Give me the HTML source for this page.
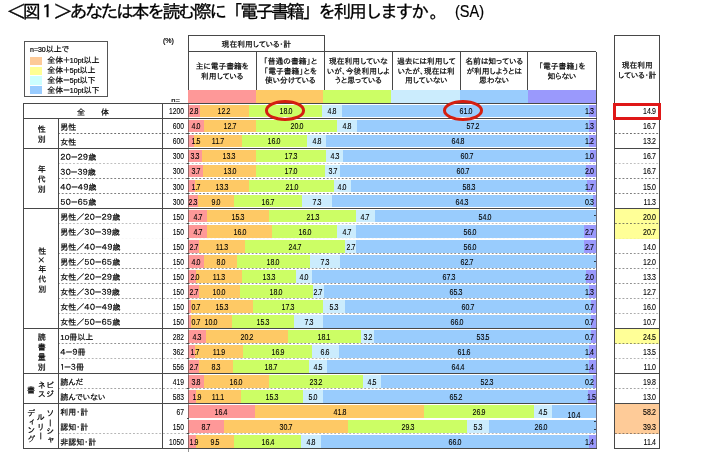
<!DOCTYPE html>
<html lang="ja"><head><meta charset="utf-8"><title>図1 電子書籍の利用</title>
<style>
html,body{margin:0;padding:0;background:#fff;}
body{width:711px;height:454px;position:relative;overflow:hidden;
 font-family:"Liberation Sans","IPAPGothic","IPAGothic",sans-serif;color:#1c1c1c;}
div,span{box-sizing:border-box;}
.a{position:absolute;}
#title{left:7.3px;top:2.0px;font-family:"Liberation Sans","IPAGothic",monospace;font-size:18px;line-height:20px;
 letter-spacing:-2.47px;white-space:nowrap;color:#000;-webkit-text-stroke:0.3px #000;}
.t{position:absolute;font-size:8px;line-height:9.5px;white-space:nowrap;color:#000;-webkit-text-stroke:0.2px #000;}
.t b{font-weight:normal;font-size:7px;}
.h{position:absolute;font-size:7.8px;line-height:9.5px;text-align:center;color:#000;white-space:nowrap;-webkit-text-stroke:0.2px #000;}
.n{position:absolute;font-size:8.3px;line-height:9px;white-space:nowrap;color:#000;-webkit-text-stroke:0.1px #000;}
.n i{font-style:normal;letter-spacing:-0.9px;}
.c{text-align:center;transform:translateX(-50%) scaleX(.85);}
.r{text-align:right;transform-origin:100% 50%;transform:translateX(-100%) scaleX(.85);}
.t.c{transform:translateX(-50%);}
.q{transform:translateX(-100%) scaleX(.81);}
.v{position:absolute;writing-mode:vertical-rl;text-align:center;font-size:8px;line-height:9.6px;letter-spacing:1.8px;white-space:nowrap;color:#000;-webkit-text-stroke:0.2px #000;}
.ln{position:absolute;background:#484848;}
.dz{position:absolute;height:1px;background-image:linear-gradient(90deg,#484848 0,#484848 50%,transparent 50%);background-size:3.75px 1px;}
.dy{position:absolute;height:1px;background-image:linear-gradient(90deg,#484848 0,#484848 38%,transparent 38%);background-size:3.75px 1px;}
.b{position:absolute;}
</style></head><body>

<div id="title" class="a">＜図１＞あなたは本を読む際に「電子書籍」を利用しますか<span style="margin-left:3px">。</span><span style="display:inline-block;margin-left:10px;letter-spacing:0;font-size:17.3px;transform:translateY(-1.5px) scaleX(.84);transform-origin:0 50%;-webkit-text-stroke:0.2px #000">(SA)</span></div>
<div class="a" style="left:24px;top:41px;width:84px;height:56px;border:1px solid #555;"></div>
<div class="t" style="left:30px;top:44.5px;"><b>n=30</b>以上で</div>
<div class="b" style="left:29.6px;top:56.7px;width:12.4px;height:8.4px;background:#fdca98"></div>
<div class="t" style="left:47.3px;top:56.1px;">全体＋<b>10pt</b>以上</div>
<div class="b" style="left:29.6px;top:66.5px;width:12.4px;height:8.4px;background:#ffff94"></div>
<div class="t" style="left:47.3px;top:65.9px;">全体＋<b>5pt</b>以上</div>
<div class="b" style="left:29.6px;top:76.3px;width:12.4px;height:8.4px;background:#ccffff"></div>
<div class="t" style="left:47.3px;top:75.7px;">全体－<b>5pt</b>以下</div>
<div class="b" style="left:29.6px;top:86.1px;width:12.4px;height:8.4px;background:#99ccff"></div>
<div class="t" style="left:47.3px;top:85.5px;">全体－<b>10pt</b>以下</div>
<div class="t" style="left:163px;top:36.3px;"><b>(%)</b></div>
<div class="a" style="left:165px;top:93px;width:22px;height:8.9px;overflow:hidden;"><div class="t" style="left:6.3px;top:2.6px;font-size:7.6px">n=</div></div>
<div class="b" style="left:188.4px;top:89.9px;width:408.0px;height:13.6px;background:#fe9898"></div>
<div class="b" style="left:255.5px;top:89.9px;width:340.9px;height:13.6px;background:#fec965"></div>
<div class="b" style="left:323.0px;top:89.9px;width:273.4px;height:13.6px;background:#ccfe65"></div>
<div class="b" style="left:391.0px;top:89.9px;width:205.4px;height:13.6px;background:#cbecfd"></div>
<div class="b" style="left:459.5px;top:89.9px;width:136.9px;height:13.6px;background:#99ccfd"></div>
<div class="b" style="left:527.5px;top:89.9px;width:68.9px;height:13.6px;background:#9a99fc"></div>
<div class="ln" style="left:187.90px;top:35.10px;width:137.10px;height:1.00px;"></div>
<div class="ln" style="left:187.90px;top:51.40px;width:408.60px;height:1.00px;"></div>
<div class="ln" style="left:187.90px;top:35.60px;width:1.00px;height:54.40px;"></div>
<div class="ln" style="left:255.50px;top:51.90px;width:1.00px;height:38.10px;"></div>
<div class="ln" style="left:324.00px;top:35.60px;width:1.00px;height:54.40px;"></div>
<div class="ln" style="left:391.70px;top:51.90px;width:1.00px;height:38.10px;"></div>
<div class="ln" style="left:459.80px;top:51.90px;width:1.00px;height:38.10px;"></div>
<div class="ln" style="left:527.40px;top:51.90px;width:1.00px;height:38.10px;"></div>
<div class="ln" style="left:595.50px;top:51.90px;width:1.00px;height:38.10px;"></div>
<div class="h" style="left:188.4px;top:40.3px;width:136px;">現在利用している・計</div>
<div class="h" style="left:188.4px;top:62.0px;width:67.6px;">主に電子書籍を<br>利用している</div>
<div class="h" style="left:256.0px;top:57.2px;width:68.5px;">「普通の書籍」と<br>「電子書籍」とを<br>使い分けている</div>
<div class="h" style="left:324.5px;top:57.2px;width:67.7px;">現在利用していな<br>いが、今後利用しよ<br>うと思っている</div>
<div class="h" style="left:392.2px;top:57.2px;width:68.1px;">過去には利用して<br>いたが、現在は利<br>用していない</div>
<div class="h" style="left:460.3px;top:57.2px;width:67.6px;">名前は知っている<br>が利用しようとは<br>思わない</div>
<div class="h" style="left:527.9px;top:62.0px;width:68.1px;">「電子書籍」を<br>知らない</div>
<div class="h" style="left:614.6px;top:61.3px;width:45.3px;">現在利用<br>している・計</div>
<div class="b" style="left:188.20px;top:104.95px;width:407.70px;height:12.4px;background:#fe9898"></div>
<div class="b" style="left:199.57px;top:104.95px;width:396.33px;height:12.4px;background:#fec965"></div>
<div class="b" style="left:249.10px;top:104.95px;width:346.80px;height:12.4px;background:#ccfe65"></div>
<div class="b" style="left:322.18px;top:104.95px;width:273.72px;height:12.4px;background:#cbecfd"></div>
<div class="b" style="left:341.67px;top:104.95px;width:254.23px;height:12.4px;background:#99ccfd"></div>
<div class="b" style="left:589.33px;top:104.95px;width:6.57px;height:12.4px;background:#9a99fc"></div>
<div class="b" style="left:188.20px;top:119.97px;width:407.70px;height:12.4px;background:#fe9898"></div>
<div class="b" style="left:204.44px;top:119.97px;width:391.46px;height:12.4px;background:#fec965"></div>
<div class="b" style="left:256.00px;top:119.97px;width:339.90px;height:12.4px;background:#ccfe65"></div>
<div class="b" style="left:337.20px;top:119.97px;width:258.70px;height:12.4px;background:#cbecfd"></div>
<div class="b" style="left:356.69px;top:119.97px;width:239.21px;height:12.4px;background:#99ccfd"></div>
<div class="b" style="left:588.92px;top:119.97px;width:6.98px;height:12.4px;background:#9a99fc"></div>
<div class="b" style="left:188.20px;top:134.99px;width:407.70px;height:12.4px;background:#fe9898"></div>
<div class="b" style="left:194.29px;top:134.99px;width:401.61px;height:12.4px;background:#fec965"></div>
<div class="b" style="left:241.79px;top:134.99px;width:354.11px;height:12.4px;background:#ccfe65"></div>
<div class="b" style="left:306.75px;top:134.99px;width:289.15px;height:12.4px;background:#cbecfd"></div>
<div class="b" style="left:326.24px;top:134.99px;width:269.66px;height:12.4px;background:#99ccfd"></div>
<div class="b" style="left:589.33px;top:134.99px;width:6.57px;height:12.4px;background:#9a99fc"></div>
<div class="b" style="left:188.20px;top:150.01px;width:407.70px;height:12.4px;background:#fe9898"></div>
<div class="b" style="left:201.60px;top:150.01px;width:394.30px;height:12.4px;background:#fec965"></div>
<div class="b" style="left:255.60px;top:150.01px;width:340.30px;height:12.4px;background:#ccfe65"></div>
<div class="b" style="left:325.83px;top:150.01px;width:270.07px;height:12.4px;background:#cbecfd"></div>
<div class="b" style="left:343.29px;top:150.01px;width:252.61px;height:12.4px;background:#99ccfd"></div>
<div class="b" style="left:589.73px;top:150.01px;width:6.17px;height:12.4px;background:#9a99fc"></div>
<div class="b" style="left:188.20px;top:165.03px;width:407.70px;height:12.4px;background:#fe9898"></div>
<div class="b" style="left:203.22px;top:165.03px;width:392.68px;height:12.4px;background:#fec965"></div>
<div class="b" style="left:256.00px;top:165.03px;width:339.90px;height:12.4px;background:#ccfe65"></div>
<div class="b" style="left:325.02px;top:165.03px;width:270.88px;height:12.4px;background:#cbecfd"></div>
<div class="b" style="left:340.04px;top:165.03px;width:255.86px;height:12.4px;background:#99ccfd"></div>
<div class="b" style="left:586.49px;top:165.03px;width:9.41px;height:12.4px;background:#9a99fc"></div>
<div class="b" style="left:188.20px;top:180.05px;width:407.70px;height:12.4px;background:#fe9898"></div>
<div class="b" style="left:195.10px;top:180.05px;width:400.80px;height:12.4px;background:#fec965"></div>
<div class="b" style="left:249.10px;top:180.05px;width:346.80px;height:12.4px;background:#ccfe65"></div>
<div class="b" style="left:334.36px;top:180.05px;width:261.54px;height:12.4px;background:#cbecfd"></div>
<div class="b" style="left:350.60px;top:180.05px;width:245.30px;height:12.4px;background:#99ccfd"></div>
<div class="b" style="left:587.30px;top:180.05px;width:8.60px;height:12.4px;background:#9a99fc"></div>
<div class="b" style="left:188.20px;top:195.07px;width:407.70px;height:12.4px;background:#fe9898"></div>
<div class="b" style="left:197.54px;top:195.07px;width:398.36px;height:12.4px;background:#fec965"></div>
<div class="b" style="left:234.08px;top:195.07px;width:361.82px;height:12.4px;background:#ccfe65"></div>
<div class="b" style="left:301.88px;top:195.07px;width:294.02px;height:12.4px;background:#cbecfd"></div>
<div class="b" style="left:331.52px;top:195.07px;width:264.38px;height:12.4px;background:#99ccfd"></div>
<div class="b" style="left:592.58px;top:195.07px;width:3.32px;height:12.4px;background:#9a99fc"></div>
<div class="b" style="left:188.20px;top:210.09px;width:407.70px;height:12.4px;background:#fe9898"></div>
<div class="b" style="left:207.28px;top:210.09px;width:388.62px;height:12.4px;background:#fec965"></div>
<div class="b" style="left:269.40px;top:210.09px;width:326.50px;height:12.4px;background:#ccfe65"></div>
<div class="b" style="left:355.88px;top:210.09px;width:240.02px;height:12.4px;background:#cbecfd"></div>
<div class="b" style="left:374.96px;top:210.09px;width:220.94px;height:12.4px;background:#99ccfd"></div>
<div class="b" style="left:614.6px;top:208.54px;width:45.3px;height:15.02px;background:#ffff97"></div>
<div class="b" style="left:188.20px;top:225.11px;width:407.70px;height:12.4px;background:#fe9898"></div>
<div class="b" style="left:207.28px;top:225.11px;width:388.62px;height:12.4px;background:#fec965"></div>
<div class="b" style="left:272.24px;top:225.11px;width:323.66px;height:12.4px;background:#ccfe65"></div>
<div class="b" style="left:337.20px;top:225.11px;width:258.70px;height:12.4px;background:#cbecfd"></div>
<div class="b" style="left:356.28px;top:225.11px;width:239.62px;height:12.4px;background:#99ccfd"></div>
<div class="b" style="left:583.64px;top:225.11px;width:12.26px;height:12.4px;background:#9a99fc"></div>
<div class="b" style="left:614.6px;top:223.56px;width:45.3px;height:15.02px;background:#ffff97"></div>
<div class="b" style="left:188.20px;top:240.13px;width:407.70px;height:12.4px;background:#fe9898"></div>
<div class="b" style="left:199.16px;top:240.13px;width:396.74px;height:12.4px;background:#fec965"></div>
<div class="b" style="left:245.04px;top:240.13px;width:350.86px;height:12.4px;background:#ccfe65"></div>
<div class="b" style="left:345.32px;top:240.13px;width:250.58px;height:12.4px;background:#cbecfd"></div>
<div class="b" style="left:356.28px;top:240.13px;width:239.62px;height:12.4px;background:#99ccfd"></div>
<div class="b" style="left:583.64px;top:240.13px;width:12.26px;height:12.4px;background:#9a99fc"></div>
<div class="b" style="left:188.20px;top:255.15px;width:407.70px;height:12.4px;background:#fe9898"></div>
<div class="b" style="left:204.44px;top:255.15px;width:391.46px;height:12.4px;background:#fec965"></div>
<div class="b" style="left:236.92px;top:255.15px;width:358.98px;height:12.4px;background:#ccfe65"></div>
<div class="b" style="left:310.00px;top:255.15px;width:285.90px;height:12.4px;background:#cbecfd"></div>
<div class="b" style="left:339.64px;top:255.15px;width:256.26px;height:12.4px;background:#99ccfd"></div>
<div class="b" style="left:188.20px;top:270.17px;width:407.70px;height:12.4px;background:#fe9898"></div>
<div class="b" style="left:196.32px;top:270.17px;width:399.58px;height:12.4px;background:#fec965"></div>
<div class="b" style="left:242.20px;top:270.17px;width:353.70px;height:12.4px;background:#ccfe65"></div>
<div class="b" style="left:296.20px;top:270.17px;width:299.70px;height:12.4px;background:#cbecfd"></div>
<div class="b" style="left:312.44px;top:270.17px;width:283.46px;height:12.4px;background:#99ccfd"></div>
<div class="b" style="left:585.67px;top:270.17px;width:10.23px;height:12.4px;background:#9a99fc"></div>
<div class="b" style="left:188.20px;top:285.19px;width:407.70px;height:12.4px;background:#fe9898"></div>
<div class="b" style="left:199.16px;top:285.19px;width:396.74px;height:12.4px;background:#fec965"></div>
<div class="b" style="left:239.76px;top:285.19px;width:356.14px;height:12.4px;background:#ccfe65"></div>
<div class="b" style="left:312.84px;top:285.19px;width:283.06px;height:12.4px;background:#cbecfd"></div>
<div class="b" style="left:323.80px;top:285.19px;width:272.10px;height:12.4px;background:#99ccfd"></div>
<div class="b" style="left:588.92px;top:285.19px;width:6.98px;height:12.4px;background:#9a99fc"></div>
<div class="b" style="left:188.20px;top:300.21px;width:407.70px;height:12.4px;background:#fe9898"></div>
<div class="b" style="left:191.04px;top:300.21px;width:404.86px;height:12.4px;background:#fec965"></div>
<div class="b" style="left:253.16px;top:300.21px;width:342.74px;height:12.4px;background:#ccfe65"></div>
<div class="b" style="left:323.40px;top:300.21px;width:272.50px;height:12.4px;background:#cbecfd"></div>
<div class="b" style="left:344.92px;top:300.21px;width:250.98px;height:12.4px;background:#99ccfd"></div>
<div class="b" style="left:591.36px;top:300.21px;width:4.54px;height:12.4px;background:#9a99fc"></div>
<div class="b" style="left:188.20px;top:315.23px;width:407.70px;height:12.4px;background:#fe9898"></div>
<div class="b" style="left:191.04px;top:315.23px;width:404.86px;height:12.4px;background:#fec965"></div>
<div class="b" style="left:231.64px;top:315.23px;width:364.26px;height:12.4px;background:#ccfe65"></div>
<div class="b" style="left:293.76px;top:315.23px;width:302.14px;height:12.4px;background:#cbecfd"></div>
<div class="b" style="left:323.40px;top:315.23px;width:272.50px;height:12.4px;background:#99ccfd"></div>
<div class="b" style="left:591.36px;top:315.23px;width:4.54px;height:12.4px;background:#9a99fc"></div>
<div class="b" style="left:188.20px;top:330.25px;width:407.70px;height:12.4px;background:#fe9898"></div>
<div class="b" style="left:205.66px;top:330.25px;width:390.24px;height:12.4px;background:#fec965"></div>
<div class="b" style="left:287.67px;top:330.25px;width:308.23px;height:12.4px;background:#ccfe65"></div>
<div class="b" style="left:361.16px;top:330.25px;width:234.74px;height:12.4px;background:#cbecfd"></div>
<div class="b" style="left:374.15px;top:330.25px;width:221.75px;height:12.4px;background:#99ccfd"></div>
<div class="b" style="left:591.36px;top:330.25px;width:4.54px;height:12.4px;background:#9a99fc"></div>
<div class="b" style="left:614.6px;top:328.70px;width:45.3px;height:15.02px;background:#ffff97"></div>
<div class="b" style="left:188.20px;top:345.27px;width:407.70px;height:12.4px;background:#fe9898"></div>
<div class="b" style="left:195.10px;top:345.27px;width:400.80px;height:12.4px;background:#fec965"></div>
<div class="b" style="left:243.42px;top:345.27px;width:352.48px;height:12.4px;background:#ccfe65"></div>
<div class="b" style="left:312.03px;top:345.27px;width:283.87px;height:12.4px;background:#cbecfd"></div>
<div class="b" style="left:338.83px;top:345.27px;width:257.07px;height:12.4px;background:#99ccfd"></div>
<div class="b" style="left:588.92px;top:345.27px;width:6.98px;height:12.4px;background:#9a99fc"></div>
<div class="b" style="left:188.20px;top:360.29px;width:407.70px;height:12.4px;background:#fe9898"></div>
<div class="b" style="left:199.16px;top:360.29px;width:396.74px;height:12.4px;background:#fec965"></div>
<div class="b" style="left:232.86px;top:360.29px;width:363.04px;height:12.4px;background:#ccfe65"></div>
<div class="b" style="left:308.78px;top:360.29px;width:287.12px;height:12.4px;background:#cbecfd"></div>
<div class="b" style="left:327.05px;top:360.29px;width:268.85px;height:12.4px;background:#99ccfd"></div>
<div class="b" style="left:588.52px;top:360.29px;width:7.38px;height:12.4px;background:#9a99fc"></div>
<div class="b" style="left:188.20px;top:375.31px;width:407.70px;height:12.4px;background:#fe9898"></div>
<div class="b" style="left:203.63px;top:375.31px;width:392.27px;height:12.4px;background:#fec965"></div>
<div class="b" style="left:268.59px;top:375.31px;width:327.31px;height:12.4px;background:#ccfe65"></div>
<div class="b" style="left:362.78px;top:375.31px;width:233.12px;height:12.4px;background:#cbecfd"></div>
<div class="b" style="left:381.05px;top:375.31px;width:214.85px;height:12.4px;background:#99ccfd"></div>
<div class="b" style="left:593.39px;top:375.31px;width:2.51px;height:12.4px;background:#9a99fc"></div>
<div class="b" style="left:188.20px;top:390.33px;width:407.70px;height:12.4px;background:#fe9898"></div>
<div class="b" style="left:195.91px;top:390.33px;width:399.99px;height:12.4px;background:#fec965"></div>
<div class="b" style="left:240.98px;top:390.33px;width:354.92px;height:12.4px;background:#ccfe65"></div>
<div class="b" style="left:303.10px;top:390.33px;width:292.80px;height:12.4px;background:#cbecfd"></div>
<div class="b" style="left:323.40px;top:390.33px;width:272.50px;height:12.4px;background:#99ccfd"></div>
<div class="b" style="left:588.11px;top:390.33px;width:7.79px;height:12.4px;background:#9a99fc"></div>
<div class="b" style="left:188.20px;top:405.35px;width:407.70px;height:12.4px;background:#fe9898"></div>
<div class="b" style="left:254.78px;top:405.35px;width:341.12px;height:12.4px;background:#fec965"></div>
<div class="b" style="left:424.49px;top:405.35px;width:171.41px;height:12.4px;background:#ccfe65"></div>
<div class="b" style="left:533.71px;top:405.35px;width:62.19px;height:12.4px;background:#cbecfd"></div>
<div class="b" style="left:551.98px;top:405.35px;width:43.92px;height:12.4px;background:#99ccfd"></div>
<div class="b" style="left:614.6px;top:403.80px;width:45.3px;height:15.02px;background:#fecb98"></div>
<div class="b" style="left:188.20px;top:420.37px;width:407.70px;height:12.4px;background:#fe9898"></div>
<div class="b" style="left:223.52px;top:420.37px;width:372.38px;height:12.4px;background:#fec965"></div>
<div class="b" style="left:348.16px;top:420.37px;width:247.74px;height:12.4px;background:#ccfe65"></div>
<div class="b" style="left:467.12px;top:420.37px;width:128.78px;height:12.4px;background:#cbecfd"></div>
<div class="b" style="left:488.64px;top:420.37px;width:107.26px;height:12.4px;background:#99ccfd"></div>
<div class="b" style="left:614.6px;top:418.82px;width:45.3px;height:15.02px;background:#fecb98"></div>
<div class="b" style="left:188.20px;top:435.39px;width:407.70px;height:12.4px;background:#fe9898"></div>
<div class="b" style="left:195.91px;top:435.39px;width:399.99px;height:12.4px;background:#fec965"></div>
<div class="b" style="left:234.48px;top:435.39px;width:361.42px;height:12.4px;background:#ccfe65"></div>
<div class="b" style="left:301.07px;top:435.39px;width:294.83px;height:12.4px;background:#cbecfd"></div>
<div class="b" style="left:320.56px;top:435.39px;width:275.34px;height:12.4px;background:#99ccfd"></div>
<div class="b" style="left:588.52px;top:435.39px;width:7.38px;height:12.4px;background:#9a99fc"></div>
<div class="ln" style="left:23.00px;top:102.90px;width:573.50px;height:1.00px;"></div>
<div class="ln" style="left:23.00px;top:117.92px;width:573.50px;height:1.00px;"></div>
<div class="ln" style="left:614.60px;top:117.92px;width:45.30px;height:1.00px;"></div>
<div class="dz" style="left:58.40px;top:132.94px;width:130.00px;opacity:0.80"></div>
<div class="dy" style="left:188.40px;top:132.59px;width:407.60px;opacity:0.80"></div>
<div class="dz" style="left:614.60px;top:132.94px;width:45.30px;opacity:0.80"></div>
<div class="ln" style="left:23.00px;top:147.96px;width:573.50px;height:1.00px;"></div>
<div class="ln" style="left:614.60px;top:147.96px;width:45.30px;height:1.00px;"></div>
<div class="dz" style="left:58.40px;top:162.98px;width:130.00px;opacity:0.35"></div>
<div class="dy" style="left:188.40px;top:162.63px;width:407.60px;opacity:0.35"></div>
<div class="dz" style="left:614.60px;top:162.98px;width:45.30px;opacity:0.35"></div>
<div class="dz" style="left:58.40px;top:178.00px;width:130.00px;opacity:0.70"></div>
<div class="dy" style="left:188.40px;top:177.65px;width:407.60px;opacity:0.70"></div>
<div class="dz" style="left:614.60px;top:178.00px;width:45.30px;opacity:0.70"></div>
<div class="dz" style="left:58.40px;top:193.02px;width:130.00px;opacity:0.70"></div>
<div class="dy" style="left:188.40px;top:192.67px;width:407.60px;opacity:0.70"></div>
<div class="dz" style="left:614.60px;top:193.02px;width:45.30px;opacity:0.70"></div>
<div class="ln" style="left:23.00px;top:208.04px;width:573.50px;height:1.00px;"></div>
<div class="ln" style="left:614.60px;top:208.04px;width:45.30px;height:1.00px;"></div>
<div class="dz" style="left:58.40px;top:223.06px;width:130.00px;opacity:0.35"></div>
<div class="dy" style="left:188.40px;top:222.71px;width:407.60px;opacity:0.35"></div>
<div class="dz" style="left:614.60px;top:223.06px;width:45.30px;opacity:0.70"></div>
<div class="dz" style="left:58.40px;top:238.08px;width:130.00px;opacity:0.05"></div>
<div class="dy" style="left:188.40px;top:237.73px;width:407.60px;opacity:0.05"></div>
<div class="dz" style="left:614.60px;top:238.08px;width:45.30px;opacity:0.05"></div>
<div class="dz" style="left:58.40px;top:253.10px;width:130.00px;opacity:0.60"></div>
<div class="dy" style="left:188.40px;top:252.75px;width:407.60px;opacity:0.60"></div>
<div class="dz" style="left:614.60px;top:253.10px;width:45.30px;opacity:0.60"></div>
<div class="dz" style="left:58.40px;top:268.12px;width:130.00px;opacity:0.60"></div>
<div class="dy" style="left:188.40px;top:267.77px;width:407.60px;opacity:0.60"></div>
<div class="dz" style="left:614.60px;top:268.12px;width:45.30px;opacity:0.60"></div>
<div class="dz" style="left:58.40px;top:283.14px;width:130.00px;opacity:0.60"></div>
<div class="dy" style="left:188.40px;top:282.79px;width:407.60px;opacity:0.60"></div>
<div class="dz" style="left:614.60px;top:283.14px;width:45.30px;opacity:0.60"></div>
<div class="dz" style="left:58.40px;top:298.16px;width:130.00px;opacity:0.50"></div>
<div class="dy" style="left:188.40px;top:297.81px;width:407.60px;opacity:0.50"></div>
<div class="dz" style="left:614.60px;top:298.16px;width:45.30px;opacity:0.50"></div>
<div class="dz" style="left:58.40px;top:313.18px;width:130.00px;opacity:0.45"></div>
<div class="dy" style="left:188.40px;top:312.83px;width:407.60px;opacity:0.45"></div>
<div class="dz" style="left:614.60px;top:313.18px;width:45.30px;opacity:0.45"></div>
<div class="ln" style="left:23.00px;top:328.20px;width:573.50px;height:1.00px;"></div>
<div class="ln" style="left:614.60px;top:328.20px;width:45.30px;height:1.00px;"></div>
<div class="dz" style="left:58.40px;top:343.22px;width:130.00px;opacity:0.60"></div>
<div class="dy" style="left:188.40px;top:342.87px;width:407.60px;opacity:0.60"></div>
<div class="dz" style="left:614.60px;top:343.22px;width:45.30px;opacity:0.60"></div>
<div class="dz" style="left:58.40px;top:358.24px;width:130.00px;opacity:0.40"></div>
<div class="dy" style="left:188.40px;top:357.89px;width:407.60px;opacity:0.40"></div>
<div class="dz" style="left:614.60px;top:358.24px;width:45.30px;opacity:0.40"></div>
<div class="ln" style="left:23.00px;top:373.26px;width:573.50px;height:1.00px;"></div>
<div class="ln" style="left:614.60px;top:373.26px;width:45.30px;height:1.00px;"></div>
<div class="dz" style="left:58.40px;top:388.28px;width:130.00px;opacity:0.50"></div>
<div class="dy" style="left:188.40px;top:387.93px;width:407.60px;opacity:0.50"></div>
<div class="dz" style="left:614.60px;top:388.28px;width:45.30px;opacity:0.50"></div>
<div class="ln" style="left:23.00px;top:403.30px;width:573.50px;height:1.00px;"></div>
<div class="ln" style="left:614.60px;top:403.30px;width:45.30px;height:1.00px;"></div>
<div class="dz" style="left:58.40px;top:433.34px;width:130.00px;opacity:0.40"></div>
<div class="dy" style="left:188.40px;top:432.99px;width:407.60px;opacity:0.40"></div>
<div class="dz" style="left:614.60px;top:433.34px;width:45.30px;opacity:0.60"></div>
<div class="ln" style="left:23.00px;top:448.36px;width:573.50px;height:1.00px;"></div>
<div class="ln" style="left:614.60px;top:448.36px;width:45.30px;height:1.00px;"></div>
<div class="ln" style="left:614.10px;top:35.10px;width:46.30px;height:1.00px;"></div>
<div class="ln" style="left:614.10px;top:448.36px;width:46.30px;height:1.00px;"></div>
<div class="ln" style="left:614.10px;top:35.60px;width:1.00px;height:413.26px;"></div>
<div class="ln" style="left:659.40px;top:35.60px;width:1.00px;height:413.26px;"></div>
<div class="ln" style="left:23.00px;top:103.40px;width:1.00px;height:345.46px;"></div>
<div class="ln" style="left:57.90px;top:118.42px;width:1.00px;height:330.44px;"></div>
<div class="ln" style="left:161.70px;top:103.40px;width:1.00px;height:345.46px;"></div>
<div class="ln" style="left:187.90px;top:103.40px;width:1.00px;height:348.96px;background:rgba(60,60,60,0.55);"></div>
<div class="ln" style="left:595.50px;top:51.90px;width:1.00px;height:51.50px;"></div>
<div class="ln" style="left:595.50px;top:103.40px;width:1.00px;height:345.46px;background:rgba(60,60,80,0.75);"></div>
<div class="ln" style="left:186.60px;top:102.90px;width:2.90px;height:1.00px;"></div>
<div class="ln" style="left:186.60px;top:117.92px;width:2.90px;height:1.00px;"></div>
<div class="ln" style="left:186.60px;top:132.94px;width:2.90px;height:1.00px;"></div>
<div class="ln" style="left:186.60px;top:147.96px;width:2.90px;height:1.00px;"></div>
<div class="ln" style="left:186.60px;top:162.98px;width:2.90px;height:1.00px;"></div>
<div class="ln" style="left:186.60px;top:178.00px;width:2.90px;height:1.00px;"></div>
<div class="ln" style="left:186.60px;top:193.02px;width:2.90px;height:1.00px;"></div>
<div class="ln" style="left:186.60px;top:208.04px;width:2.90px;height:1.00px;"></div>
<div class="ln" style="left:186.60px;top:223.06px;width:2.90px;height:1.00px;"></div>
<div class="ln" style="left:186.60px;top:238.08px;width:2.90px;height:1.00px;"></div>
<div class="ln" style="left:186.60px;top:253.10px;width:2.90px;height:1.00px;"></div>
<div class="ln" style="left:186.60px;top:268.12px;width:2.90px;height:1.00px;"></div>
<div class="ln" style="left:186.60px;top:283.14px;width:2.90px;height:1.00px;"></div>
<div class="ln" style="left:186.60px;top:298.16px;width:2.90px;height:1.00px;"></div>
<div class="ln" style="left:186.60px;top:313.18px;width:2.90px;height:1.00px;"></div>
<div class="ln" style="left:186.60px;top:328.20px;width:2.90px;height:1.00px;"></div>
<div class="ln" style="left:186.60px;top:343.22px;width:2.90px;height:1.00px;"></div>
<div class="ln" style="left:186.60px;top:358.24px;width:2.90px;height:1.00px;"></div>
<div class="ln" style="left:186.60px;top:373.26px;width:2.90px;height:1.00px;"></div>
<div class="ln" style="left:186.60px;top:388.28px;width:2.90px;height:1.00px;"></div>
<div class="ln" style="left:186.60px;top:403.30px;width:2.90px;height:1.00px;"></div>
<div class="ln" style="left:186.60px;top:418.32px;width:2.90px;height:1.00px;"></div>
<div class="ln" style="left:186.60px;top:433.34px;width:2.90px;height:1.00px;"></div>
<div class="ln" style="left:186.60px;top:448.36px;width:2.90px;height:1.00px;"></div>
<div class="t c" style="left:93px;top:107.61px;letter-spacing:0px">全　　体</div>
<div class="n r q" style="left:184.0px;top:107.41px;">1200</div>
<div class="n r" style="left:655.6px;top:107.41px;">14<i>.</i>9</div>
<div class="n c" style="left:193.88px;top:107.41px;">2<i>.</i>8</div>
<div class="n c" style="left:224.33px;top:107.41px;">12<i>.</i>2</div>
<div class="n c" style="left:285.64px;top:107.41px;">18<i>.</i>0</div>
<div class="n c" style="left:331.92px;top:107.41px;">4<i>.</i>8</div>
<div class="n c" style="left:465.50px;top:107.41px;">61<i>.</i>0</div>
<div class="n r" style="left:593.70px;top:107.41px;">1<i>.</i>3</div>
<div class="t" style="left:60.3px;top:122.93px;">男性</div>
<div class="n r q" style="left:184.0px;top:122.43px;">600</div>
<div class="n r" style="left:655.6px;top:122.43px;">16<i>.</i>7</div>
<div class="n c" style="left:196.32px;top:122.43px;">4<i>.</i>0</div>
<div class="n c" style="left:230.22px;top:122.43px;">12<i>.</i>7</div>
<div class="n c" style="left:296.60px;top:122.43px;">20<i>.</i>0</div>
<div class="n c" style="left:346.95px;top:122.43px;">4<i>.</i>8</div>
<div class="n c" style="left:472.81px;top:122.43px;">57<i>.</i>2</div>
<div class="n r" style="left:593.70px;top:122.43px;">1<i>.</i>3</div>
<div class="t" style="left:60.3px;top:137.95px;">女性</div>
<div class="n r q" style="left:184.0px;top:137.45px;">600</div>
<div class="n r" style="left:655.6px;top:137.45px;">13<i>.</i>2</div>
<div class="n c" style="left:195.80px;top:137.45px;">1<i>.</i>5</div>
<div class="n c" style="left:218.04px;top:137.45px;">11<i>.</i>7</div>
<div class="n c" style="left:274.27px;top:137.45px;">16<i>.</i>0</div>
<div class="n c" style="left:316.50px;top:137.45px;">4<i>.</i>8</div>
<div class="n c" style="left:457.78px;top:137.45px;">64<i>.</i>8</div>
<div class="n r" style="left:593.70px;top:137.45px;">1<i>.</i>2</div>
<div class="t" style="left:60.3px;top:152.97px;">２０－２９歳</div>
<div class="n r q" style="left:184.0px;top:152.47px;">300</div>
<div class="n r" style="left:655.6px;top:152.47px;">16<i>.</i>7</div>
<div class="n c" style="left:194.90px;top:152.47px;">3<i>.</i>3</div>
<div class="n c" style="left:228.60px;top:152.47px;">13<i>.</i>3</div>
<div class="n c" style="left:290.72px;top:152.47px;">17<i>.</i>3</div>
<div class="n c" style="left:334.56px;top:152.47px;">4<i>.</i>3</div>
<div class="n c" style="left:466.51px;top:152.47px;">60<i>.</i>7</div>
<div class="n r" style="left:593.70px;top:152.47px;">1<i>.</i>0</div>
<div class="t" style="left:60.3px;top:167.99px;">３０－３９歳</div>
<div class="n r q" style="left:184.0px;top:167.49px;">300</div>
<div class="n r" style="left:655.6px;top:167.49px;">16<i>.</i>7</div>
<div class="n c" style="left:195.71px;top:167.49px;">3<i>.</i>7</div>
<div class="n c" style="left:229.61px;top:167.49px;">13<i>.</i>0</div>
<div class="n c" style="left:290.51px;top:167.49px;">17<i>.</i>0</div>
<div class="n c" style="left:332.53px;top:167.49px;">3<i>.</i>7</div>
<div class="n c" style="left:463.26px;top:167.49px;">60<i>.</i>7</div>
<div class="n r" style="left:593.70px;top:167.49px;">2<i>.</i>0</div>
<div class="t" style="left:60.3px;top:183.01px;">４０－４９歳</div>
<div class="n r q" style="left:184.0px;top:182.51px;">300</div>
<div class="n r" style="left:655.6px;top:182.51px;">15<i>.</i>0</div>
<div class="n c" style="left:196.20px;top:182.51px;">1<i>.</i>7</div>
<div class="n c" style="left:222.10px;top:182.51px;">13<i>.</i>3</div>
<div class="n c" style="left:291.73px;top:182.51px;">21<i>.</i>0</div>
<div class="n c" style="left:342.48px;top:182.51px;">4<i>.</i>0</div>
<div class="n c" style="left:468.95px;top:182.51px;">58<i>.</i>3</div>
<div class="n r" style="left:593.70px;top:182.51px;">1<i>.</i>7</div>
<div class="t" style="left:60.3px;top:198.03px;">５０－６５歳</div>
<div class="n r q" style="left:184.0px;top:197.53px;">300</div>
<div class="n r" style="left:655.6px;top:197.53px;">11<i>.</i>3</div>
<div class="n c" style="left:192.87px;top:197.53px;">2<i>.</i>3</div>
<div class="n c" style="left:215.81px;top:197.53px;">9<i>.</i>0</div>
<div class="n c" style="left:267.98px;top:197.53px;">16<i>.</i>7</div>
<div class="n c" style="left:316.70px;top:197.53px;">7<i>.</i>3</div>
<div class="n c" style="left:462.05px;top:197.53px;">64<i>.</i>3</div>
<div class="n r" style="left:593.70px;top:197.53px;">0<i>.</i>3</div>
<div class="t" style="left:60.3px;top:213.05px;">男性／２０－２９歳</div>
<div class="n r q" style="left:184.0px;top:212.55px;">150</div>
<div class="n r" style="left:655.6px;top:212.55px;">20<i>.</i>0</div>
<div class="n c" style="left:197.74px;top:212.55px;">4<i>.</i>7</div>
<div class="n c" style="left:238.34px;top:212.55px;">15<i>.</i>3</div>
<div class="n c" style="left:312.64px;top:212.55px;">21<i>.</i>3</div>
<div class="n c" style="left:365.42px;top:212.55px;">4<i>.</i>7</div>
<div class="n c" style="left:484.58px;top:212.55px;">54<i>.</i>0</div>
<div class="n c" style="left:594.8px;top:210.70px;">-</div>
<div class="t" style="left:60.3px;top:228.07px;">男性／３０－３９歳</div>
<div class="n r q" style="left:184.0px;top:227.57px;">150</div>
<div class="n r" style="left:655.6px;top:227.57px;">20<i>.</i>7</div>
<div class="n c" style="left:197.74px;top:227.57px;">4<i>.</i>7</div>
<div class="n c" style="left:239.76px;top:227.57px;">16<i>.</i>0</div>
<div class="n c" style="left:304.72px;top:227.57px;">16<i>.</i>0</div>
<div class="n c" style="left:346.74px;top:227.57px;">4<i>.</i>7</div>
<div class="n c" style="left:469.96px;top:227.57px;">56<i>.</i>0</div>
<div class="n r" style="left:593.70px;top:227.57px;">2<i>.</i>7</div>
<div class="t" style="left:60.3px;top:243.09px;">男性／４０－４９歳</div>
<div class="n r q" style="left:184.0px;top:242.59px;">150</div>
<div class="n r" style="left:655.6px;top:242.59px;">14<i>.</i>0</div>
<div class="n c" style="left:193.68px;top:242.59px;">2<i>.</i>7</div>
<div class="n c" style="left:222.10px;top:242.59px;">11<i>.</i>3</div>
<div class="n c" style="left:295.18px;top:242.59px;">24<i>.</i>7</div>
<div class="n c" style="left:350.80px;top:242.59px;">2<i>.</i>7</div>
<div class="n c" style="left:469.96px;top:242.59px;">56<i>.</i>0</div>
<div class="n r" style="left:593.70px;top:242.59px;">2<i>.</i>7</div>
<div class="t" style="left:60.3px;top:258.11px;">男性／５０－６５歳</div>
<div class="n r q" style="left:184.0px;top:257.61px;">150</div>
<div class="n r" style="left:655.6px;top:257.61px;">12<i>.</i>0</div>
<div class="n c" style="left:196.32px;top:257.61px;">4<i>.</i>0</div>
<div class="n c" style="left:220.68px;top:257.61px;">8<i>.</i>0</div>
<div class="n c" style="left:273.46px;top:257.61px;">18<i>.</i>0</div>
<div class="n c" style="left:324.82px;top:257.61px;">7<i>.</i>3</div>
<div class="n c" style="left:466.92px;top:257.61px;">62<i>.</i>7</div>
<div class="n c" style="left:594.8px;top:256.80px;">-</div>
<div class="t" style="left:60.3px;top:273.13px;">女性／２０－２９歳</div>
<div class="n r q" style="left:184.0px;top:272.63px;">150</div>
<div class="n r" style="left:655.6px;top:272.63px;">13<i>.</i>3</div>
<div class="n c" style="left:195.00px;top:272.63px;">2<i>.</i>0</div>
<div class="n c" style="left:219.26px;top:272.63px;">11<i>.</i>3</div>
<div class="n c" style="left:269.20px;top:272.63px;">13<i>.</i>3</div>
<div class="n c" style="left:304.32px;top:272.63px;">4<i>.</i>0</div>
<div class="n c" style="left:449.05px;top:272.63px;">67<i>.</i>3</div>
<div class="n r" style="left:593.70px;top:272.63px;">2<i>.</i>0</div>
<div class="t" style="left:60.3px;top:288.15px;">女性／３０－３９歳</div>
<div class="n r q" style="left:184.0px;top:287.65px;">150</div>
<div class="n r" style="left:655.6px;top:287.65px;">12<i>.</i>7</div>
<div class="n c" style="left:193.68px;top:287.65px;">2<i>.</i>7</div>
<div class="n c" style="left:219.46px;top:287.65px;">10<i>.</i>0</div>
<div class="n c" style="left:276.30px;top:287.65px;">18<i>.</i>0</div>
<div class="n c" style="left:318.32px;top:287.65px;">2<i>.</i>7</div>
<div class="n c" style="left:456.36px;top:287.65px;">65<i>.</i>3</div>
<div class="n r" style="left:593.70px;top:287.65px;">1<i>.</i>3</div>
<div class="t" style="left:60.3px;top:303.17px;">女性／４０－４９歳</div>
<div class="n r q" style="left:184.0px;top:302.67px;">150</div>
<div class="n r" style="left:655.6px;top:302.67px;">16<i>.</i>0</div>
<div class="n c" style="left:196.40px;top:302.67px;">0<i>.</i>7</div>
<div class="n c" style="left:222.10px;top:302.67px;">15<i>.</i>3</div>
<div class="n c" style="left:288.28px;top:302.67px;">17<i>.</i>3</div>
<div class="n c" style="left:334.16px;top:302.67px;">5<i>.</i>3</div>
<div class="n c" style="left:468.14px;top:302.67px;">60<i>.</i>7</div>
<div class="n r" style="left:593.70px;top:302.67px;">0<i>.</i>7</div>
<div class="t" style="left:60.3px;top:318.19px;">女性／５０－６５歳</div>
<div class="n r q" style="left:184.0px;top:317.69px;">150</div>
<div class="n r" style="left:655.6px;top:317.69px;">10<i>.</i>7</div>
<div class="n c" style="left:196.40px;top:317.69px;">0<i>.</i>7</div>
<div class="n c" style="left:211.34px;top:317.69px;">10<i>.</i>0</div>
<div class="n c" style="left:262.70px;top:317.69px;">15<i>.</i>3</div>
<div class="n c" style="left:308.58px;top:317.69px;">7<i>.</i>3</div>
<div class="n c" style="left:457.38px;top:317.69px;">66<i>.</i>0</div>
<div class="n r" style="left:593.70px;top:317.69px;">0<i>.</i>7</div>
<div class="t" style="left:60.3px;top:333.21px;">10冊以上</div>
<div class="n r q" style="left:184.0px;top:332.71px;">282</div>
<div class="n r" style="left:655.6px;top:332.71px;">24<i>.</i>5</div>
<div class="n c" style="left:196.93px;top:332.71px;">4<i>.</i>3</div>
<div class="n c" style="left:246.66px;top:332.71px;">20<i>.</i>2</div>
<div class="n c" style="left:324.41px;top:332.71px;">18<i>.</i>1</div>
<div class="n c" style="left:367.65px;top:332.71px;">3<i>.</i>2</div>
<div class="n c" style="left:482.75px;top:332.71px;">53<i>.</i>5</div>
<div class="n r" style="left:593.70px;top:332.71px;">0<i>.</i>7</div>
<div class="t" style="left:60.3px;top:348.23px;">４－９冊</div>
<div class="n r q" style="left:184.0px;top:347.73px;">362</div>
<div class="n r" style="left:655.6px;top:347.73px;">13<i>.</i>5</div>
<div class="n c" style="left:195.20px;top:347.73px;">1<i>.</i>7</div>
<div class="n c" style="left:219.26px;top:347.73px;">11<i>.</i>9</div>
<div class="n c" style="left:277.72px;top:347.73px;">16<i>.</i>9</div>
<div class="n c" style="left:325.43px;top:347.73px;">6<i>.</i>6</div>
<div class="n c" style="left:463.87px;top:347.73px;">61<i>.</i>6</div>
<div class="n r" style="left:593.70px;top:347.73px;">1<i>.</i>4</div>
<div class="t" style="left:60.3px;top:363.25px;">１－３冊</div>
<div class="n r q" style="left:184.0px;top:362.75px;">556</div>
<div class="n r" style="left:655.6px;top:362.75px;">11<i>.</i>0</div>
<div class="n c" style="left:193.68px;top:362.75px;">2<i>.</i>7</div>
<div class="n c" style="left:216.01px;top:362.75px;">8<i>.</i>3</div>
<div class="n c" style="left:270.82px;top:362.75px;">18<i>.</i>7</div>
<div class="n c" style="left:317.92px;top:362.75px;">4<i>.</i>5</div>
<div class="n c" style="left:457.78px;top:362.75px;">64<i>.</i>4</div>
<div class="n r" style="left:593.70px;top:362.75px;">1<i>.</i>4</div>
<div class="t" style="left:60.3px;top:378.27px;">読んだ</div>
<div class="n r q" style="left:184.0px;top:377.77px;">419</div>
<div class="n r" style="left:655.6px;top:377.77px;">19<i>.</i>8</div>
<div class="n c" style="left:195.91px;top:377.77px;">3<i>.</i>8</div>
<div class="n c" style="left:236.11px;top:377.77px;">16<i>.</i>0</div>
<div class="n c" style="left:315.68px;top:377.77px;">23<i>.</i>2</div>
<div class="n c" style="left:371.91px;top:377.77px;">4<i>.</i>5</div>
<div class="n c" style="left:487.22px;top:377.77px;">52<i>.</i>3</div>
<div class="n r" style="left:593.70px;top:377.77px;">0<i>.</i>2</div>
<div class="t" style="left:60.3px;top:393.29px;">読んでいない</div>
<div class="n r q" style="left:184.0px;top:392.79px;">583</div>
<div class="n r" style="left:655.6px;top:392.79px;">13<i>.</i>0</div>
<div class="n c" style="left:196.90px;top:392.79px;">1<i>.</i>9</div>
<div class="n c" style="left:218.45px;top:392.79px;">11<i>.</i>1</div>
<div class="n c" style="left:272.04px;top:392.79px;">15<i>.</i>3</div>
<div class="n c" style="left:313.25px;top:392.79px;">5<i>.</i>0</div>
<div class="n c" style="left:455.75px;top:392.79px;">65<i>.</i>2</div>
<div class="n r" style="left:596.40px;top:392.79px;">1<i>.</i>5</div>
<div class="t" style="left:60.3px;top:408.31px;">利用・計</div>
<div class="n r q" style="left:184.0px;top:407.81px;">67</div>
<div class="n r" style="left:655.6px;top:407.81px;">58<i>.</i>2</div>
<div class="n c" style="left:221.49px;top:407.81px;">16<i>.</i>4</div>
<div class="n c" style="left:339.64px;top:407.81px;">41<i>.</i>8</div>
<div class="n c" style="left:479.10px;top:407.81px;">26<i>.</i>9</div>
<div class="n c" style="left:542.84px;top:407.81px;">4<i>.</i>5</div>
<div class="n c" style="left:573.80px;top:411.11px;">10<i>.</i>4</div>
<div class="n c" style="left:594.8px;top:416.70px;">-</div>
<div class="t" style="left:60.3px;top:423.33px;">認知・計</div>
<div class="n r q" style="left:184.0px;top:422.83px;">150</div>
<div class="n r" style="left:655.6px;top:422.83px;">39<i>.</i>3</div>
<div class="n c" style="left:205.86px;top:422.83px;">8<i>.</i>7</div>
<div class="n c" style="left:285.84px;top:422.83px;">30<i>.</i>7</div>
<div class="n c" style="left:407.64px;top:422.83px;">29<i>.</i>3</div>
<div class="n c" style="left:477.88px;top:422.83px;">5<i>.</i>3</div>
<div class="n c" style="left:541.42px;top:422.83px;">26<i>.</i>0</div>
<div class="n c" style="left:594.8px;top:424.50px;">-</div>
<div class="t" style="left:60.3px;top:438.35px;">非認知・計</div>
<div class="n r q" style="left:184.0px;top:437.85px;">1050</div>
<div class="n r" style="left:655.6px;top:437.85px;">11<i>.</i>4</div>
<div class="n c" style="left:194.00px;top:437.85px;">1<i>.</i>9</div>
<div class="n c" style="left:215.20px;top:437.85px;">9<i>.</i>5</div>
<div class="n c" style="left:267.78px;top:437.85px;">16<i>.</i>4</div>
<div class="n c" style="left:310.81px;top:437.85px;">4<i>.</i>8</div>
<div class="n c" style="left:454.54px;top:437.85px;">66<i>.</i>0</div>
<div class="n r" style="left:593.70px;top:437.85px;">1<i>.</i>4</div>
<div class="v" style="left:40.9px;top:134.3px;letter-spacing:1.8px;line-height:9.6px;transform:translate(-50%,-50%);">性別</div>
<div class="v" style="left:40.9px;top:179.4px;letter-spacing:1.8px;line-height:9.6px;transform:translate(-50%,-50%);">年代別</div>
<div class="v" style="left:40.9px;top:269.5px;letter-spacing:1.8px;line-height:9.6px;transform:translate(-50%,-50%);">性<span style="font-family:'IPAPGothic','IPAGothic',sans-serif">×</span>年代別</div>
<div class="v" style="left:40.9px;top:352.1px;letter-spacing:1.8px;line-height:9.6px;transform:translate(-50%,-50%);">読書量別</div>
<div class="v" style="left:44.8px;top:389.7px;letter-spacing:1.8px;line-height:8.3px;transform:translate(-50%,-50%);">ビジ<br>ネス</div>
<div class="v" style="left:30.3px;top:390.9px;letter-spacing:1.8px;line-height:9.6px;transform:translate(-50%,-50%);">書</div>
<div class="v" style="left:40.0px;top:427.2px;letter-spacing:2.1px;line-height:9.5px;transform:translate(-50%,-50%);">ソーシャ<br>ルリー<br>ディング</div>
<div class="a" style="left:612.6px;top:102.7px;width:48.2px;height:16.9px;border:3px solid #df1717;"></div>
<div class="a" style="left:265.2px;top:100.3px;width:40px;height:20.7px;border:3px solid #d41f10;border-radius:50%;"></div>
<div class="a" style="left:442.8px;top:100.0px;width:40.2px;height:21px;border:3px solid #d41f10;border-radius:50%;"></div>
</body></html>
